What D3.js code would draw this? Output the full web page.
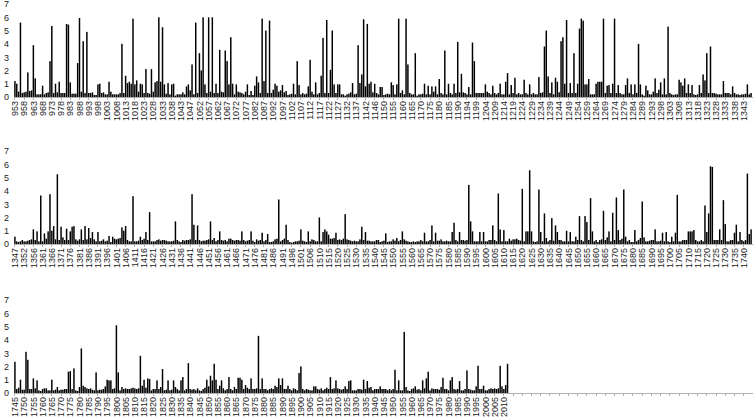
<!DOCTYPE html>
<html>
<head>
<meta charset="utf-8">
<script src="https://cdn.jsdelivr.net/npm/d3@7"></script>
<style>
  body { margin: 0; background: #fff; }
  .axis text { font-family: "Liberation Sans", Arial, sans-serif; font-size: 9px; fill: #222; }
  .axis--x path, .axis--x line { stroke: #b0b0b0; shape-rendering: crispEdges; }
  .bar { fill: #000; }
</style>
</head>
<body>
<div id="chart"></div>
<script>
var width = 755,
    height = 420,
    plotLeft = 14,
    plotRight = 752,
    slots = 400,
    plotHeight = 93
;

// Values, one bar per category (panel 1: 953..1346)
var p1Values = [
    1.2,1.0,0.4,5.6,0.3,0.35,0.4,1.85,0.45,0.5,
    3.9,1.4,0.2,0.2,0.2,0.85,0.2,0.3,0.35,2.7,
    5.35,0.3,1.0,0.35,1.15,0.3,0.3,0.3,5.5,5.45,
    1.1,0.25,0.25,0.25,2.55,5.95,0.4,4.2,0.3,4.9,
    0.3,0.3,0.35,0.15,0.15,0.95,1.0,0.3,0.35,0.2,
    0.2,1.15,0.4,0.2,0.2,0.2,0.2,0.3,4.0,0.3,
    1.6,1.05,1.15,1.0,5.9,0.95,1.25,0.4,1.0,0.95,
    0.3,2.1,0.3,0.25,2.1,0.4,1.1,1.2,6.0,1.15,
    5.25,0.95,0.25,1.05,0.2,0.95,1.0,0.1,0.2,0.2,
    0.2,0.35,0.2,0.8,0.95,0.5,2.45,0.2,5.6,0.3,
    3.3,2.0,6.0,0.95,0.3,6.0,0.4,6.0,0.3,1.0,
    0.3,3.55,0.4,0.35,3.5,2.7,0.95,4.5,1.0,0.2,
    0.95,0.4,0.35,0.3,0.2,0.4,0.95,0.15,0.45,0.15,
    0.85,1.55,1.1,0.3,5.9,1.2,5.0,0.3,5.75,0.3,
    0.55,1.0,0.85,0.4,0.5,0.9,0.35,0.45,0.15,0.2,
    0.25,1.0,0.2,2.7,0.9,0.2,0.3,0.2,0.25,0.8,
    2.8,0.4,0.2,1.1,0.2,0.3,1.6,4.45,0.3,5.8,
    0.3,2.05,5.0,0.95,0.3,0.95,0.95,0.2,0.2,0.1,
    0.2,0.25,0.35,1.05,0.2,0.25,3.9,1.05,1.7,5.85,
    0.8,5.5,1.0,1.15,0.35,1.0,0.3,0.2,0.75,0.75,
    0.15,0.2,0.25,0.2,1.1,0.9,0.2,0.95,5.9,0.3,
    0.5,0.2,5.9,2.45,0.3,0.2,0.2,3.3,0.1,0.2,
    0.2,0.25,1.0,0.2,0.85,0.2,0.8,0.4,0.8,0.2,
    1.35,0.3,0.2,3.5,0.2,1.0,0.3,0.2,1.0,0.3,
    4.15,0.35,1.75,0.35,0.3,0.2,0.75,0.2,4.1,2.7,
    0.3,0.3,0.3,0.3,0.3,0.95,0.4,0.3,0.2,0.85,
    0.3,0.2,0.3,1.0,0.2,0.2,1.15,1.8,0.2,0.9,
    0.3,1.45,0.2,0.3,0.2,0.2,1.3,0.3,0.2,0.95,
    0.2,0.3,0.2,0.2,1.5,0.3,0.35,3.8,5.0,1.55,
    0.3,1.1,0.2,1.45,1.15,0.35,4.2,4.5,1.0,5.8,
    0.3,1.05,0.3,3.3,0.3,1.0,5.15,5.9,5.75,0.95,
    0.95,1.35,0.2,0.2,0.2,1.0,1.15,1.15,1.15,5.9,
    0.3,0.85,0.9,0.3,1.0,5.9,0.3,0.9,0.3,0.2,
    0.2,0.9,1.4,0.3,0.95,0.2,0.95,0.3,4.0,0.95,
    0.2,0.1,0.85,0.5,0.2,0.2,0.4,1.4,0.3,0.55,
    1.1,0.2,1.4,0.2,5.3,0.3,0.2,0.15,0.2,0.2,
    1.3,1.1,0.85,1.4,0.3,0.95,0.3,0.9,0.2,0.15,
    0.2,0.9,0.3,1.7,1.25,3.3,0.3,3.8,0.3,0.3,
    0.25,0.2,0.2,0.2,1.2,0.3,0.3,0.3,0.2,0.8,
    0.3,0.2,0.2,0.15,0.2,0.2,0.25,0.95,0.2,0.3
];

// panel 2: 1347..1744
var p2Values = [
    0.55,0.2,0.15,0.2,0.3,0.2,0.2,0.25,0.3,0.35,
    1.1,0.3,0.95,0.2,3.65,0.2,0.8,0.4,0.95,3.75,
    1.0,1.35,0.35,5.25,0.3,1.3,0.5,0.3,1.15,0.3,
    0.95,1.3,1.35,0.35,0.25,0.35,1.1,0.3,1.35,0.35,
    1.2,0.45,0.9,0.35,0.2,0.9,0.2,0.25,0.35,0.2,
    0.25,0.6,0.15,0.55,0.4,0.35,0.4,0.45,1.25,1.0,
    1.35,0.3,0.2,0.2,3.6,0.2,0.2,0.25,0.55,0.3,
    0.4,0.9,0.3,2.4,0.2,0.2,0.2,0.3,0.35,0.25,
    0.3,0.3,0.25,0.2,0.2,0.2,0.25,1.7,0.3,0.2,
    0.15,0.3,0.25,0.3,0.3,0.35,3.75,1.45,0.3,1.4,
    0.3,0.2,0.25,0.25,0.3,0.35,1.7,0.3,0.45,0.2,
    0.3,0.95,0.3,0.25,0.3,0.2,0.4,0.4,0.3,0.25,
    0.3,0.3,0.25,0.95,0.3,0.2,0.25,0.3,0.95,0.25,
    0.15,0.35,0.25,0.3,0.85,0.2,0.3,0.75,0.15,0.15,
    0.2,0.35,0.4,3.35,0.2,0.3,0.4,1.45,0.3,0.15,
    0.1,0.15,0.2,0.2,0.25,1.1,0.25,0.2,0.15,0.95,
    0.2,0.35,0.3,0.2,0.2,2.0,0.2,0.9,1.1,0.95,
    0.7,0.4,0.4,0.45,0.85,0.3,0.35,0.3,0.4,2.25,
    0.35,0.3,0.25,0.2,0.25,0.2,0.2,0.35,1.3,0.3,
    0.9,0.25,0.25,0.2,0.2,0.2,0.3,0.3,0.15,0.2,
    0.25,0.8,0.15,0.2,0.2,0.35,0.25,0.45,0.2,0.3,
    0.95,0.35,0.25,0.2,0.15,0.15,0.2,0.15,0.2,0.2,
    0.3,0.2,0.85,0.2,0.2,0.3,1.4,0.2,0.85,0.25,
    0.25,0.35,0.2,0.2,0.25,0.2,0.2,0.9,1.6,0.3,
    0.2,0.9,0.3,0.3,0.25,0.3,4.45,1.7,0.95,0.2,
    0.2,0.2,0.9,0.2,0.9,0.2,0.2,0.3,0.3,1.4,
    0.3,0.2,3.8,1.1,0.2,1.05,0.2,0.2,0.4,0.25,
    0.35,0.35,0.4,0.3,0.25,4.15,0.2,0.95,0.95,5.55,
    0.95,0.2,0.15,0.2,4.1,0.9,0.2,2.3,0.45,0.2,
    0.3,1.95,0.25,1.4,0.9,0.3,0.3,0.2,0.2,1.0,
    0.2,0.9,0.2,0.2,0.55,0.3,2.1,0.3,0.2,2.1,
    1.65,0.3,3.45,0.95,0.2,0.3,0.15,0.3,0.35,2.5,
    0.3,0.5,0.95,0.2,2.35,0.3,3.5,1.05,0.3,0.4,
    4.1,0.55,0.2,0.3,0.15,0.15,1.05,0.2,0.3,0.45,
    3.2,0.5,0.2,0.2,0.25,0.3,0.3,1.1,0.2,0.2,
    0.25,0.85,0.2,0.9,0.2,0.15,0.55,0.2,0.85,3.7,
    0.2,0.2,0.3,0.3,0.3,0.95,0.95,0.95,1.05,0.3,
    0.2,0.2,0.3,0.2,2.9,0.9,2.3,5.85,5.8,0.3,
    0.3,0.3,1.1,0.3,3.3,1.5,0.2,0.2,0.3,0.3,
    0.85,1.45,0.2,0.9,0.3,0.2,0.3,5.3,0.75,1.1
];

// panel 3: 1745..2012
var p3Values = [
    2.35,0.3,0.4,1.0,0.25,0.25,3.1,2.5,0.3,0.3,
    1.1,0.35,0.95,0.2,0.15,0.3,0.35,0.35,0.2,0.2,
    1.0,0.2,0.25,0.45,0.2,0.25,0.25,0.3,0.3,1.6,
    1.65,0.3,1.85,0.2,0.15,0.45,3.35,0.55,0.45,0.35,
    0.3,0.35,0.25,0.2,1.55,0.2,0.25,0.25,0.3,0.5,
    1.0,0.95,0.95,0.3,0.35,5.1,1.55,0.2,0.45,0.3,
    0.35,0.3,0.3,0.35,0.4,0.35,0.3,0.35,2.8,0.55,
    1.0,0.4,1.1,1.05,0.2,0.3,0.3,0.95,0.3,0.45,
    1.8,0.2,0.25,0.95,0.2,0.25,0.95,0.45,0.3,0.2,
    0.95,1.2,0.2,0.3,2.25,0.3,0.25,0.3,0.2,0.35,
    0.2,0.15,0.3,0.4,1.0,0.5,1.3,0.95,2.2,1.0,
    0.3,0.55,0.95,0.35,0.2,0.3,1.2,0.3,0.2,0.45,
    0.3,1.15,1.15,1.0,0.3,0.6,0.4,0.3,1.1,0.3,
    0.3,0.35,4.3,0.3,1.1,0.3,0.3,0.2,0.3,0.35,
    0.3,0.55,0.45,1.1,0.6,1.1,0.3,0.3,0.55,0.3,
    0.2,0.35,0.3,0.2,1.5,2.0,0.3,0.2,0.3,0.25,
    0.2,0.2,0.5,0.5,0.3,0.25,0.35,0.2,0.3,0.4,
    0.3,1.2,0.3,0.35,0.95,0.35,0.3,0.25,0.3,0.5,
    0.3,0.9,0.95,0.2,0.2,0.2,0.3,0.3,0.25,1.0,
    0.3,0.9,0.4,0.45,0.2,0.3,0.3,0.3,0.5,0.3,
    0.3,0.3,0.2,0.3,0.2,0.3,1.75,0.2,0.95,0.2,
    0.2,4.6,0.45,0.2,0.15,0.3,0.35,0.5,0.25,0.3,
    0.2,0.95,0.35,1.1,1.6,0.2,0.35,0.3,0.3,0.3,
    0.25,0.45,1.15,0.3,0.3,0.2,0.95,1.2,0.3,0.25,
    0.3,0.9,0.2,0.2,0.3,1.7,0.3,0.25,0.2,0.2,
    0.5,2.05,0.3,0.3,0.55,0.2,0.2,0.3,0.35,0.3,
    0.35,0.3,0.35,2.05,0.5,0.3,0.6,2.2
];

// Tick labels, one for every 5th category
var p1Labels = [953,958,963,968,973,978,983,988,993,998,1003,1008,1013,1018,1023,1028,1033,1038,1043,
    1047,1052,1057,1062,1067,1072,1077,1082,1087,1092,1097,1102,1107,1112,1117,1122,1127,1132,1137,1142,
    1146,1150,1155,1160,1165,1170,1175,1180,1185,1190,
    1194,1199,1204,1209,1214,1219,1224,1229,1234,1239,1244,1249,1254,1259,1264,1269,1274,1279,1284,1289,
    1293,1298,1303,1308,1313,1318,1323,1328,1333,1338,1343];
var p2Labels = [1347,1352,1356,1361,1366,1371,1376,1381,1386,1391,1396,1401,1406,1411,1416,1421,1426,
    1431,1436,1441,1446,1451,1456,1461,1466,1471,1476,1481,1486,1491,1496,1501,1506,
    1510,1515,1520,1525,1530,1535,1540,1545,1550,1555,1560,1565,1570,1575,1580,1585,1590,1595,1600,
    1605,1610,1615,1620,1625,1630,1635,1640,1645,1650,1655,1660,1665,1670,1675,1680,1685,1690,1695,
    1700,1705,1710,1715,1720,1725,1730,1735,1740];
var p3Labels = [1745,1750,1755,1760,1765,1770,1775,1780,1785,1790,1795,1800,1805,1810,1815,1820,1825,
    1830,1835,1840,1845,1850,1855,1860,1865,1870,1875,1880,1885,1890,1895,1900,1905,1910,1915,1920,
    1925,1930,1935,1940,1945,1950,1955,1960,1965,1970,1975,1980,1985,1990,1995,2000,2005,2010];

var yTicks = [0, 1, 2, 3, 4, 5, 6, 7];

var panels = [
    {values: p1Values, labels: p1Labels, base: 97},
    {values: p2Values, labels: p2Labels, base: 244},
    {values: p3Values, labels: p3Labels, base: 393}
];

// Create SVG
var svg = d3
    .select('#chart')
    .append('svg')
    .attr('width', width)
    .attr('height', height)
;

// Same category slots for every panel
var x = d3.scaleBand()
    .domain(d3.range(slots))
    .range([plotLeft, plotRight])
    .paddingInner(0.2)
    .paddingOuter(0.1);

var tickIdx = d3.range(0, slots, 5);

panels.forEach(function(p) {
    var y = d3.scaleLinear()
        .domain([0, 7])
        .range([p.base, p.base - plotHeight]);

    var g = svg.append('g').attr('class', 'panel');

    // y axis labels only
    g.append('g')
        .attr('class', 'axis axis--y')
        .attr('transform', 'translate(' + (plotLeft - 4) + ',0)')
        .call(d3.axisLeft(y).tickValues(yTicks).tickFormat(d3.format('d')).tickSize(0).tickPadding(1))
        .call(function(a) { a.select('.domain').remove(); });

    // x axis with rotated labels
    var xAxis = d3.axisBottom(x)
        .tickValues(tickIdx)
        .tickSize(3)
        .tickSizeOuter(0)
        .tickFormat(function(d) {
            var l = p.labels[d / 5];
            return l === undefined ? '' : l;
        });

    var ax = g.append('g')
        .attr('class', 'axis axis--x')
        .attr('transform', 'translate(0,' + p.base + ')')
        .call(xAxis);

    ax.selectAll('text')
        .attr('transform', 'rotate(-90)')
        .attr('text-anchor', 'end')
        .attr('x', -4)
        .attr('y', 0)
        .attr('dy', '0.35em');

    // bars
    g.selectAll('.bar')
        .data(p.values)
        .enter()
        .append('rect')
        .attr('class', 'bar')
        .attr('x', function(d, i) { return x(i); })
        .attr('width', x.bandwidth())
        .attr('y', function(d) { return y(d); })
        .attr('height', function(d) { return y(0) - y(d); });
});
</script>
</body>
</html>
